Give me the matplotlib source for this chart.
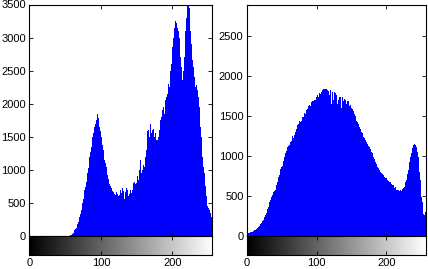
import numpy as np
import matplotlib
matplotlib.use("Agg")
import matplotlib.pyplot as plt

plt.rcParams['font.family'] = ['Liberation Sans', 'DejaVu Sans']

bins = list(range(256))

left_counts = (
    [0] * 56 +
    [5, 10, 15, 25, 35, 50, 65, 85] +
    [100, 125, 150, 180, 210, 250, 290, 340, 390, 440, 500, 560, 620, 690, 745, 810] +
    [880, 950, 1030, 1110, 1190, 1275, 1350, 1420, 1490, 1550, 1600, 1650, 1700, 1760, 1800, 1840] +
    [1790, 1720, 1650, 1580, 1500, 1450, 1380, 1300, 1220, 1150, 1100, 1040, 980, 920, 860, 820] +
    [780, 750, 720, 700, 680, 660, 650, 640, 620, 660, 720, 640, 600, 560, 620, 700] +
    [650, 580, 730, 680, 600, 560, 660, 720, 650, 700, 600, 580, 640, 700, 650, 620] +
    [700, 800, 760, 820, 780, 800, 760, 900, 850, 1000, 900, 1150, 960, 1050, 1000, 1080] +
    [1050, 1120, 1200, 1300, 1450, 1580, 1600, 1500, 1650, 1700, 1560, 1750, 1600, 1620, 1500, 1930] +
    [1550, 1450, 1400, 1450, 1500, 1600, 1700, 1750, 1800, 1850, 1900, 1950, 1850, 2000, 2050, 2100] +
    [2050, 2150, 2300, 2250, 2400, 2500, 2600, 2700, 2850, 3000, 3150, 3240, 3250, 3220, 3200, 3150] +
    [3100, 3000, 2850, 2700, 2550, 2400, 2360, 2500, 2700, 2900, 3100, 3300, 3500, 3600, 3600, 3450] +
    [3250, 3100, 2900, 2750, 2660, 2550, 2400, 2300, 2250, 2280, 2250, 2200, 2100, 1950, 1800, 1650] +
    [1500, 1350, 1200, 1050, 950, 850, 750, 600, 500, 450, 420, 400, 380, 350, 290, 1100]
)

right_counts = (
    [30, 35, 40, 40, 45, 45, 50, 50, 55, 60, 75, 70, 80, 85, 95, 100] +
    [110, 120, 130, 145, 160, 175, 190, 205, 220, 240, 260, 285, 310, 340, 365, 390] +
    [420, 445, 470, 490, 510, 530, 545, 560, 570, 600, 640, 680, 710, 740, 760, 800] +
    [840, 860, 880, 900, 940, 980, 1000, 1030, 1060, 1090, 1110, 1120, 1130, 1150, 1170, 1180] +
    [1200, 1250, 1220, 1300, 1260, 1300, 1340, 1360, 1380, 1400, 1360, 1440, 1420, 1470, 1440, 1480] +
    [1500, 1480, 1540, 1520, 1560, 1570, 1590, 1560, 1620, 1640, 1650, 1620, 1670, 1690, 1660, 1690] +
    [1700, 1720, 1700, 1730, 1730, 1760, 1740, 1780, 1760, 1775, 1800, 1780, 1820, 1840, 1815, 1830] +
    [1840, 1820, 1830, 1825, 1810, 1800, 1760, 1820, 1795, 1650, 1800, 1780, 1700, 1795, 1780, 1820] +
    [1760, 1650, 1750, 1700, 1740, 1760, 1730, 1600, 1740, 1720, 1680, 1710, 1690, 1700, 1650, 1690] +
    [1680, 1690, 1660, 1620, 1640, 1600, 1610, 1580, 1560, 1540, 1520, 1500, 1460, 1440, 1420, 1400] +
    [1380, 1360, 1340, 1320, 1300, 1280, 1260, 1240, 1220, 1200, 1190, 1170, 1150, 1140, 1120, 1110] +
    [1090, 1080, 1050, 1030, 1010, 990, 960, 940, 920, 900, 880, 860, 850, 830, 820, 800] +
    [790, 780, 770, 760, 750, 740, 730, 725, 720, 700, 690, 680, 670, 675, 660, 650] +
    [640, 620, 635, 600, 610, 590, 580, 570, 560, 580, 560, 550, 570, 560, 580, 590] +
    [600, 615, 640, 670, 700, 740, 780, 830, 880, 930, 990, 1030, 1070, 1100, 1130, 1150] +
    [1150, 1140, 1120, 1110, 1050, 990, 900, 800, 700, 600, 490, 420, 350, 280, 260, 300]
)

left_yticks = [0, 500, 1000, 1500, 2000, 2500, 3000, 3500]
right_yticks = [0, 500, 1000, 1500, 2000, 2500]
xticks = [0, 100, 200]

W, H = 428, 269
fig = plt.figure(figsize=(W / 100, H / 100), dpi=100)

def frac(x0, x1, y0, y1):
    return [x0 / W, 1 - y1 / H, (x1 - x0) / W, (y1 - y0) / H]

def style(ax):
    ax.tick_params(direction='in', length=3, width=0.6, labelsize=8, pad=2.5,
                   top=True, right=True)
    for s in ax.spines.values():
        s.set_linewidth(0.8)
        s.set_color('black')

panels = [
    (left_counts, left_yticks, 3500, 29.3, 212.5),
    (right_counts, right_yticks, 2890, 247.0, 425.5),
]

for counts, yt, ytop, x0, x1 in panels:
    ax = fig.add_axes(frac(x0, x1, 4.5, 236))
    ax.bar(bins, counts, width=1.0, color='#0000ff', linewidth=0, align='edge')
    ax.set_xlim(0, 256)
    ax.set_ylim(0, ytop)
    ax.set_yticks(yt)
    ax.set_xticks(xticks)
    ax.set_xticklabels([])
    style(ax)

    cb = fig.add_axes(frac(x0, x1, 236, 255))
    grad = np.arange(256).reshape(1, -1)
    cb.imshow(grad, cmap='gray', extent=[0, 256, 0, 1], aspect='auto',
              interpolation='bilinear')
    cb.set_xlim(0, 256)
    cb.set_ylim(0, 1)
    cb.set_yticks([])
    cb.set_xticks(xticks)
    style(cb)
    cb.tick_params(right=False, left=False)

fig.savefig('out.png', dpi=100)
